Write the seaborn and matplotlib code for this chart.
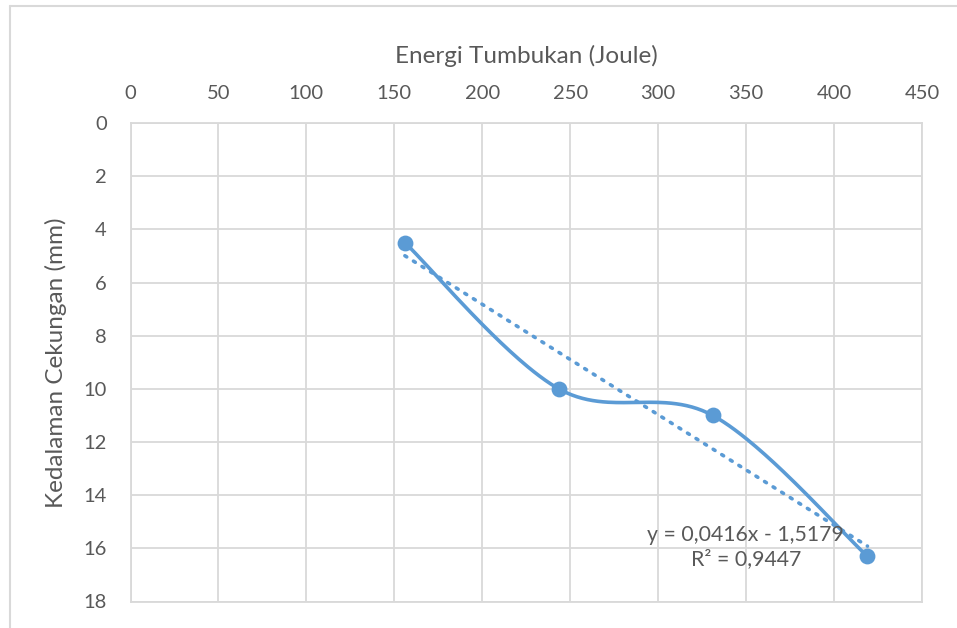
import numpy as np
import pandas as pd
import matplotlib
matplotlib.use("Agg")
import matplotlib.pyplot as plt
import seaborn as sns
from matplotlib.lines import Line2D

# data
energi = [156, 243.5, 331, 419]          # Energi Tumbukan (Joule)
kedalaman = [4.5, 10.0, 11.0, 16.3]      # Kedalaman Cekungan (mm)
x_ticks = [0, 50, 100, 150, 200, 250, 300, 350, 400, 450]
y_ticks = [0, 2, 4, 6, 8, 10, 12, 14, 16, 18]
eq_text = "y = 0,0416x - 1,5179\nR² = 0,9447"

sns.set_theme(style="white")
plt.rcParams['font.family'] = ['Lato', 'DejaVu Sans']

blue = "#5B9BD5"
grid_c = "#D9D9D9"
txt_c = "#595959"

df = pd.DataFrame({"energi": energi, "kedalaman": kedalaman})


def smooth_curve(x, y, n=60):
    # Excel-like smoothed line (Catmull-Rom bezier)
    x = np.asarray(x, float)
    y = np.asarray(y, float)
    px = np.concatenate([[x[0]], x, [x[-1]]])
    py = np.concatenate([[y[0]], y, [y[-1]]])
    xs, ys = [], []
    t = np.linspace(0, 1, n)
    for i in range(1, len(px) - 2):
        p0 = np.array([px[i], py[i]])
        p3 = np.array([px[i + 1], py[i + 1]])
        p1 = p0 + (np.array([px[i + 1], py[i + 1]]) - np.array([px[i - 1], py[i - 1]])) / 6
        p2 = p3 - (np.array([px[i + 2], py[i + 2]]) - np.array([px[i], py[i]])) / 6
        b = ((1 - t) ** 3)[:, None] * p0 + (3 * (1 - t) ** 2 * t)[:, None] * p1 \
            + (3 * (1 - t) * t ** 2)[:, None] * p2 + (t ** 3)[:, None] * p3
        xs.extend(b[:, 0])
        ys.extend(b[:, 1])
    return np.array(xs), np.array(ys)


fig = plt.figure(figsize=(9.57, 6.28), dpi=100)
ax = fig.add_axes([130.5 / 957, 1 - 601.5 / 628, (922 - 130.5) / 957, (601.5 - 123) / 628])

sx, sy = smooth_curve(energi, kedalaman)
ax.plot(sx, sy, color=blue, lw=2.6, zorder=3)

# linear trendline
k, c = np.polyfit(energi, kedalaman, 1)
tx = np.array([energi[0], energi[-1]])
ax.plot(tx, k * tx + c, color=blue, lw=2.6, ls=(0, (0.6, 2.2)), dash_capstyle="round", zorder=2)

sns.scatterplot(data=df, x="energi", y="kedalaman", ax=ax, color=blue, s=130,
                edgecolor=blue, linewidth=0, zorder=4)

ax.set_xlim(0, 450)
ax.set_ylim(18, 0)
ax.set_xticks(x_ticks)
ax.set_yticks(y_ticks)
ax.xaxis.tick_top()
ax.xaxis.set_label_position("top")
ax.grid(True, color=grid_c, lw=1.3)
for s in ax.spines.values():
    s.set_color(grid_c)
    s.set_linewidth(1.3)
ax.tick_params(axis="both", length=0, labelsize=14.5, labelcolor=txt_c)
ax.tick_params(axis="x", pad=15)
ax.tick_params(axis="y", pad=17)
ax.set_xlabel("Energi Tumbukan (Joule)", fontsize=17.5, color=txt_c, labelpad=16)
ax.set_ylabel("Kedalaman Cekungan (mm)", fontsize=17.5, color=txt_c, labelpad=12)

ax.text(349.8, 15.95, eq_text, ha="center", va="center", fontsize=15.3, color=txt_c,
        linespacing=1.3, zorder=5)

# chart area border (top and left only visible)
fig.add_artist(Line2D([10 / 957, 1], [1 - 6 / 628, 1 - 6 / 628], color=grid_c, lw=1.5))
fig.add_artist(Line2D([10 / 957, 10 / 957], [0, 1 - 6 / 628], color=grid_c, lw=1.5))

fig.savefig("out.png", dpi=100)
